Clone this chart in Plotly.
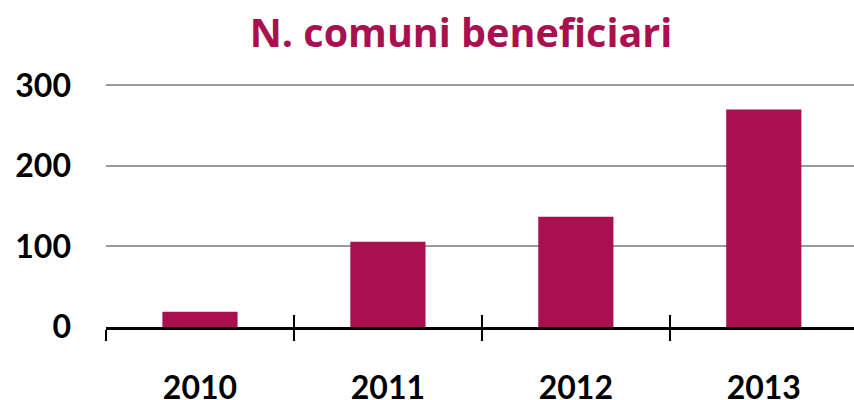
import plotly.graph_objects as go

years = ["2010", "2011", "2012", "2013"]
values = [19, 106, 137, 270]
title_text = "N. comuni beneficiari"
bar_color = "#A8104F"

fig = go.Figure()
fig.add_trace(go.Bar(x=years, y=values, marker=dict(color=bar_color, line=dict(width=0)),
                     width=0.4, showlegend=False))
# invisible trace to drive the overlay axis (inner half of the crossing ticks)
fig.add_trace(go.Scatter(x=years, y=values, xaxis="x2", mode="markers",
                         marker=dict(opacity=0), showlegend=False, hoverinfo="skip"))

font_digits = "Lato, 'Open Sans', sans-serif"
font_title = "'Open Sans', Lato, sans-serif"

fig.update_layout(
    width=854, height=400,
    margin=dict(l=106, r=0, t=83, b=73, autoexpand=False),
    paper_bgcolor="white", plot_bgcolor="white",
    title=dict(text="<b>" + title_text + "</b>", x=461/854, xanchor="center",
               y=1 - 33/400, yanchor="middle", yref="container", xref="container",
               font=dict(family=font_title, size=39.5, color=bar_color)),
    xaxis=dict(type="category", range=[-0.5, 3.48], tickson="boundaries",
               ticks="outside", ticklen=11, tickwidth=2, tickcolor="black",
               showline=True, linewidth=3, linecolor="black", showgrid=False,
               ticklabelstandoff=31, automargin=False,
               tickfont=dict(family=font_digits, size=32, color="black", weight="bold")),
    xaxis2=dict(type="category", range=[-0.5, 3.48], tickson="boundaries",
                overlaying="x", anchor="y", side="bottom", automargin=False,
                ticks="inside", ticklen=12, tickwidth=2, tickcolor="black",
                showticklabels=False, showline=False, showgrid=False),
    yaxis=dict(range=[0, 303], tickvals=[0, 100, 200, 300], showgrid=True,
               gridcolor="#9a9a9a", gridwidth=2, zeroline=False, showline=False,
               ticks="", ticklabelstandoff=34, automargin=False,
               tickfont=dict(family=font_digits, size=32, color="black", weight="bold")),
)

fig.write_html("out.html", config={"displayModeBar": False},
               post_script="document.body.style.margin='0';document.body.style.overflow='hidden';")
